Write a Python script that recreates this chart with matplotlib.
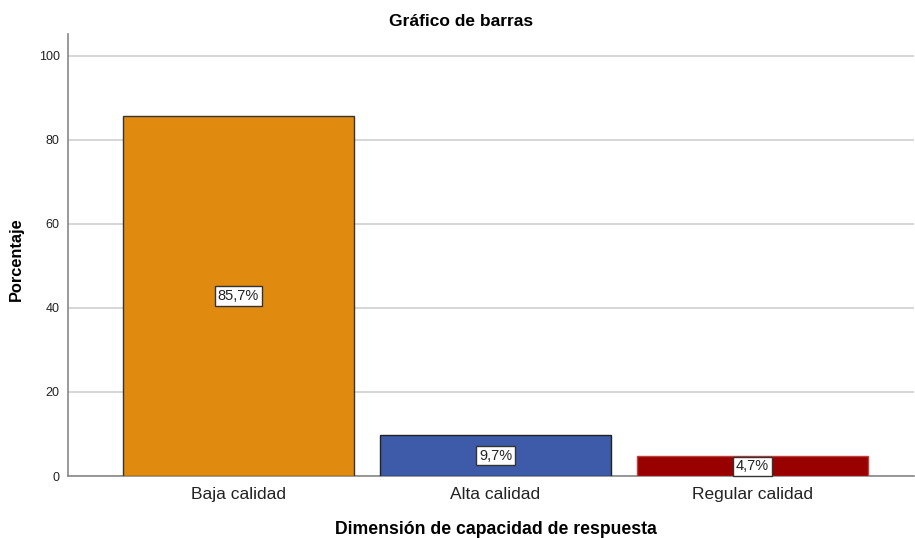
import matplotlib.pyplot as plt

categorias = ['Baja calidad', 'Alta calidad', 'Regular calidad']
porcentajes = [85.7, 9.7, 4.7]
etiquetas = ['85,7%', '9,7%', '4,7%']
colores = ['#E08A0F', '#3E5BA9', '#990000']
bordes = ['#333333', '#222222', '#C04040']

plt.rcParams['font.family'] = ['Liberation Sans', 'DejaVu Sans']

fig = plt.figure(figsize=(9.15, 5.38), dpi=100)
ax = fig.add_axes([0.0743, 0.1152, 0.9247, 0.8216])

x = range(len(categorias))
barras = ax.bar(x, porcentajes, width=0.9, color=colores, edgecolor=bordes, linewidth=1, zorder=3)

for b, val, txt in zip(barras, porcentajes, etiquetas):
    ax.text(b.get_x() + b.get_width() / 2, val / 2, txt, ha='center', va='center',
            fontsize=10.5, color='#222222', zorder=4,
            bbox=dict(boxstyle='square,pad=0.18', facecolor='white', edgecolor='#333333', linewidth=1))

ax.set_xlim(-0.663, 2.628)
ax.set_ylim(0, 105.2)
ax.set_yticks([0, 20, 40, 60, 80, 100])
ax.set_xticks(list(x))
ax.set_xticklabels(categorias, fontsize=12.5, color='#222222')
ax.tick_params(axis='y', labelsize=9, length=0, pad=6, colors='#222222')
ax.tick_params(axis='x', length=0, pad=8)
ax.yaxis.grid(True, color='#D0D0D0', linewidth=1.2, zorder=0)

for s in ['top', 'right']:
    ax.spines[s].set_visible(False)
for s in ['left', 'bottom']:
    ax.spines[s].set_color('#888888')
    ax.spines[s].set_linewidth(1.2)

fig.text(0.504, 1 - 22 / 538, 'Gráfico de barras', fontsize=12.5, fontweight='bold',
         ha='center', va='center')
ax.set_ylabel('Porcentaje', fontsize=11.8, fontweight='bold')
ax.yaxis.set_label_coords(-0.052, 0.49)
ax.set_xlabel('Dimensión de capacidad de respuesta', fontsize=12.7, fontweight='bold')
ax.xaxis.set_label_coords(0.506, -0.102)

fig.savefig('out.png', dpi=100)
